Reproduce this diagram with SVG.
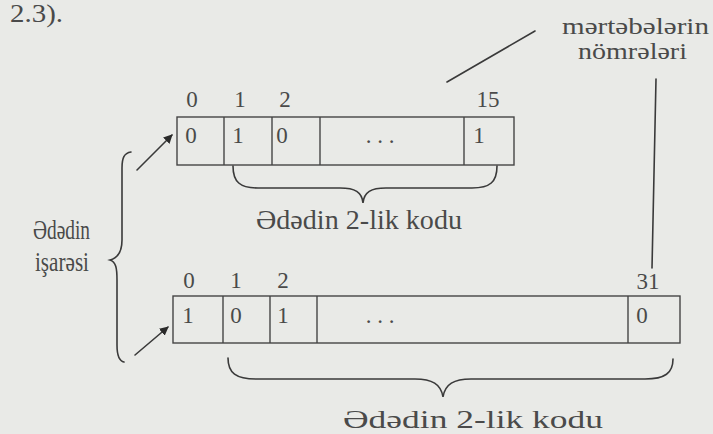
<svg xmlns="http://www.w3.org/2000/svg" width="713" height="434" viewBox="0 0 713 434">
<defs>
<style>
.bg{fill:#e9eae7}
.box{fill:none;stroke:#454545;stroke-width:1.4}
.ln{fill:none;stroke:#3a3a3a;stroke-width:1.6;stroke-linecap:round}
.t{font-family:"Liberation Serif","DejaVu Serif","Times New Roman",serif;fill:#4a4a4a;}
.d{font-family:"Liberation Serif","DejaVu Serif","Times New Roman",serif;fill:#4a4a4a;font-size:23px;text-anchor:middle}
</style>
<marker id="ah" viewBox="0 0 10 10" refX="9" refY="5" markerWidth="9" markerHeight="9" markerUnits="userSpaceOnUse" orient="auto">
<path d="M0,0 L10,5 L0,10 Z" fill="#2a2a2a"/>
</marker>
</defs>
<rect class="bg" x="0" y="0" width="713" height="434"/>
<text class="t" x="10" y="22" font-size="25" textLength="53" lengthAdjust="spacingAndGlyphs">2.3).</text>
<g id="label-mertebe">
<text class="t" x="562" y="34" font-size="23" textLength="147" lengthAdjust="spacingAndGlyphs">mərtəbələrin</text>
<text class="t" x="578" y="59" font-size="23" textLength="109" lengthAdjust="spacingAndGlyphs">nömrələri</text>
</g>
<g id="label-isare">
<text class="t" x="33" y="239" font-size="27" textLength="57" lengthAdjust="spacingAndGlyphs">Ədədin</text>
<text class="t" x="35" y="271" font-size="27" textLength="54" lengthAdjust="spacingAndGlyphs">işarəsi</text>
</g>
<g id="register16">
<rect class="box" x="177" y="117" width="337" height="48"/>
<line class="box" x1="224" y1="117" x2="224" y2="165"/>
<line class="box" x1="272" y1="117" x2="272" y2="165"/>
<line class="box" x1="320" y1="117" x2="320" y2="165"/>
<line class="box" x1="464" y1="117" x2="464" y2="165"/>
<text class="d" x="192" y="107">0</text>
<text class="d" x="240" y="107">1</text>
<text class="d" x="285" y="107">2</text>
<text class="d" x="488" y="107">15</text>
<text class="d" x="191" y="143">0</text>
<text class="d" x="238" y="143">1</text>
<text class="d" x="282" y="143">0</text>
<text class="d" x="380" y="143">. . .</text>
<text class="d" x="479" y="143">1</text>
</g>
<g id="caption16">
<text class="t" x="256" y="229" font-size="27" textLength="206" lengthAdjust="spacingAndGlyphs">Ədədin 2-lik kodu</text>
</g>
<g id="register32">
<rect class="box" x="173" y="296" width="507" height="47"/>
<line class="box" x1="223" y1="296" x2="223" y2="343"/>
<line class="box" x1="270" y1="296" x2="270" y2="343"/>
<line class="box" x1="317" y1="296" x2="317" y2="343"/>
<line class="box" x1="628" y1="296" x2="628" y2="343"/>
<text class="d" x="189" y="288">0</text>
<text class="d" x="236" y="288">1</text>
<text class="d" x="283" y="288">2</text>
<text class="d" x="648" y="289">31</text>
<text class="d" x="188" y="323">1</text>
<text class="d" x="236" y="323">0</text>
<text class="d" x="283" y="323">1</text>
<text class="d" x="380" y="323">. . .</text>
<text class="d" x="642" y="323">0</text>
</g>
<g id="caption32">
<text class="t" x="343" y="428" font-size="26" textLength="260" lengthAdjust="spacingAndGlyphs">Ədədin 2-lik kodu</text>
</g>
<g id="connectors">
<path class="ln" d="M233,166 C233,182 240,188 258,188 L340,188 C355,188 362,192 363,203 C364,192 371,188 386,188 L472,188 C490,188 497,182 497,166"/>
<path class="ln" d="M228,358 C228,373 236,379 256,379 L415,379 C432,379 441,384 443,397 C445,384 454,379 471,379 L645,379 C665,379 673,373 673,359"/>
<path class="ln" d="M131,152 C124,153 122,158 122,168 L122,240 C122,252 118,258 110,260 C116,262 117,268 117,280 L117,345 C117,356 119,361 124,362"/>
<line class="ln" x1="137" y1="170" x2="172" y2="135" marker-end="url(#ah)"/>
<line class="ln" x1="135" y1="355" x2="168" y2="327" marker-end="url(#ah)"/>
<line class="ln" x1="447" y1="82" x2="535" y2="31"/>
<line class="ln" x1="656" y1="79" x2="652" y2="268"/>
</g>
</svg>
